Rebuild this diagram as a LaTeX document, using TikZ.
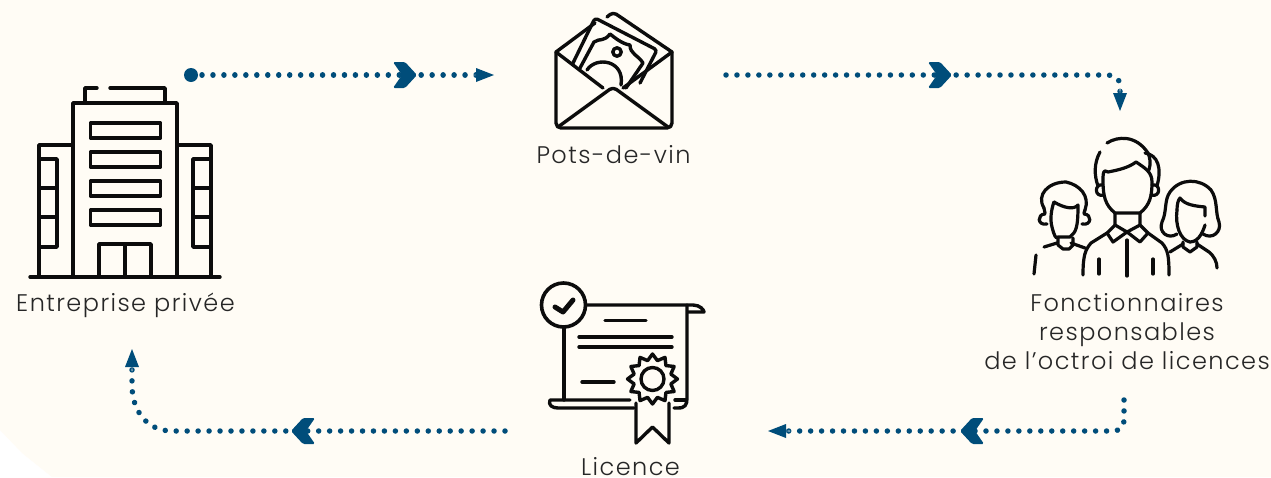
\documentclass[tikz,border=0pt]{standalone}
\usepackage{fontspec}
\setmainfont{Poppins}[UprightFont=* Light,LetterSpace=6]
\usetikzlibrary{arrows.meta}
\definecolor{cream}{HTML}{FFFCF5}
\definecolor{flow}{HTML}{004D7A}
\definecolor{ink}{HTML}{0C0C0C}
\definecolor{labelink}{HTML}{262626}
\tikzset{
  x=1pt,y=-1pt,
  icon/.style={draw=ink,line width=3.4pt,line cap=round,line join=round,fill=none},
  thinicon/.style={icon,line width=3pt},
  dotflow/.style={draw=flow,line width=5.5pt,line cap=round,dash pattern=on 0.01pt off 10.95pt,
    -{Triangle[length=4pt,width=1pt,line width=0pt,color=cream,fill=cream]Triangle[length=18pt,width=14pt,line width=0pt,color=flow,fill=flow]}},
  lab/.style={font=\fontsize{24}{29}\selectfont,text=labelink,inner sep=0pt},
  chevron/.pic={\fill[flow,rounded corners=1.5pt] (-12,-13)--(0,-13)--(12,0)--(0,13)--(-12,13)--(-3,0)--cycle;}
}
\begin{document}
\begin{tikzpicture}
\useasboundingbox (0,0) rectangle (1271,477);
\fill[white] (0,0) rectangle (1271,477);
\fill[cream] (0,0)--(1271,0)--(1271,477)--(52,477)--(22,453)--(0,430)--cycle;

% ---- building
\begin{scope}[icon]
\draw (30,277)--(220,277);
\draw (73,277)--(73,103)--(177,103)--(177,277);
\draw (97,88)--(85,88)--(85,103);
\draw (110,88)--(165,88)--(165,103);
\draw (73,145)--(39,145)--(39,277);
\draw (177,145)--(211,145)--(211,277);
\draw (39,159)--(57,159)--(57,247)--(39,247);
\draw (39,188)--(57,188) (39,217)--(57,217);
\draw (211,159)--(193,159)--(193,247)--(211,247);
\draw (211,188)--(193,188) (211,217)--(193,217);
\draw (90.5,123) rectangle (160.5,138);
\draw (90.5,152) rectangle (160.5,167);
\draw (90.5,181) rectangle (160.5,196);
\draw (90.5,210) rectangle (160.5,225);
\draw (99,277)--(99,244)--(151,244)--(151,277) (125,244)--(125,277);
\end{scope}

% ---- envelope
\begin{scope}[icon]
\draw[rounded corners=5pt] (556,52)--(556,128)--(672,128)--(672,52);
\draw (556,52)--(603,88) (672,52)--(623,88);
\draw[rounded corners=4pt] (558,127)--(613,87)--(668,127);
\draw (556,52)--(595,23);
\draw[rounded corners=4pt] (607,17)--(613,12)--(672,52);
\draw[rounded corners=3pt] (573,63)--(595,18)--(657,50)--(640,83);
\draw (580,68)--(594,42) .. controls (600,38) and (604,42) .. (610,34)
  .. controls (614,37) and (622,44) .. (630,45)
  .. controls (630,54) and (638,55) .. (643,63)--(626,88);
\draw (617,52) circle (4.2);
\draw (587,70) .. controls (596,56) and (625,60) .. (621,85);
\end{scope}

% ---- officials
\begin{scope}[thinicon,line width=3.2pt]
% centre
\draw (1103,180) .. controls (1103,170) and (1104,170) .. (1108,172)
  .. controls (1118,170) and (1128,168) .. (1136,162)
  .. controls (1145,168) and (1152,172) .. (1152,182)
  .. controls (1152,196) and (1150,205) .. (1140,213)--(1115,213) .. controls (1105,205) and (1103,196) .. (1103,180);
\draw (1107,143) .. controls (1118,136) and (1136,135) .. (1148,153) .. controls (1150,158) and (1151,163) .. (1149,170);
\draw (1100,152) .. controls (1094,163) and (1094,175) .. (1098,186);
\draw (1145,153) .. controls (1158,155) and (1162,168) .. (1157,186);
\draw (1103,185) .. controls (1094,183) and (1094,198) .. (1104,195);
\draw (1152,185) .. controls (1161,183) and (1161,198) .. (1151,195);
\draw (1115,213)--(1115,225)--(1107,233)--(1113,242)--(1127,232)--(1140,242)--(1148,233)--(1140,225)--(1140,213);
\draw (1115,225)--(1127,232)--(1140,225);
\draw (1127,240)--(1127,276);
\draw (1107,233)--(1091,243) .. controls (1085,250) and (1083,256) .. (1083,275);
\draw (1148,233)--(1162,243) .. controls (1168,250) and (1169,256) .. (1169,275);
\draw (1099,259)--(1099,274) (1153,259)--(1153,274);
% left man
\draw (1054,202) .. controls (1051,210) and (1050,220) .. (1052,227) .. controls (1054,235) and (1056,240) .. (1058,237)--(1070,237)
  .. controls (1076,232) and (1078,228) .. (1078,205) .. controls (1074,210) and (1064,208) .. (1054,202);
\draw (1044,208) .. controls (1036,195) and (1048,182) .. (1066,182) .. controls (1080,185) and (1090,196) .. (1085,210);
\draw (1044,208)--(1045,213) (1085,210)--(1084,213);
\draw (1045,214) .. controls (1037,214) and (1037,226) .. (1047,224);
\draw (1084,214) .. controls (1092,214) and (1092,226) .. (1082,224);
\draw (1058,238)--(1058,245)--(1063,249)--(1069,249)--(1073,245)--(1073,238);
\draw (1044,247)--(1057,243) (1071,243)--(1085,248);
\draw (1036,255)--(1034,274);
% woman
\draw (1177,210) .. controls (1177,205) and (1178,200) .. (1180,198) .. controls (1185,205) and (1195,206) .. (1205,207)--(1205,216);
\draw (1177,210) .. controls (1175,225) and (1180,240) .. (1190,242) .. controls (1200,242) and (1204,228) .. (1205,225);
\draw (1177,234) .. controls (1168,240) and (1158,232) .. (1162,222) .. controls (1167,212) and (1164,200) .. (1170,192)
  .. controls (1180,178) and (1200,178) .. (1211,190) .. controls (1218,200) and (1215,212) .. (1219,222)
  .. controls (1222,232) and (1212,240) .. (1203,234);
\draw (1183,242)--(1183,247)--(1190,252)--(1197,247)--(1197,242);
\draw (1170,252)--(1183,244) (1197,244)--(1209,252) .. controls (1214,256) and (1217,262) .. (1217,268);
\end{scope}

% ---- licence
\begin{scope}[icon]
\draw[line width=3.6pt] (563.5,305) circle (22);
\draw[line width=5pt] (555,307)--(563,312)--(573,300);
\draw (587,305)--(693,305) .. controls (700,305) and (704,310) .. (704,312)--(688,312);
\draw (687,305)--(687,398) .. controls (687,405) and (685,408) .. (678,408)--(674,408);
\draw (564,328)--(564,400);
\draw (675,400)--(686,400);
\draw (630,400)--(550,400) .. controls (548,405) and (552,408) .. (558,408)--(634,408);
\draw (605,320.5)--(646,320.5);
\draw (579,337)--(672,337) (579,347)--(672,347) (582,382)--(614,382);
\draw (636,403)--(636,443)--(652.5,427)--(669,443)--(669,403);
\draw[fill=cream] plot[samples at={0,15,...,345},variable=\t] ({652.5+(22+3*cos(12*\t))*sin(\t)},{379-(22+3*cos(12*\t))*cos(\t)}) -- cycle;
\draw (652.5,379) circle (11.5);
\end{scope}

% ---- connector ends
\coordinate (a1) at (202,75);  \coordinate (a2) at (494,75);
\coordinate (b1) at (726,75);  \coordinate (b2) at (1120,111);
\coordinate (c1) at (1124,400);\coordinate (c2) at (768,431);
\coordinate (d1) at (505,431); \coordinate (d2) at (132,349);
\node[circle,fill=flow,inner sep=0pt,minimum size=14pt] (start) at (191,75) {};

\draw[dotflow] (a1)--(a2);
\draw[dotflow] (b1)--(1106,75) .. controls (1114,75) and (1120,78) .. (1120,86)--(b2);
\draw[dotflow] (c1)--(1124,419) .. controls (1124,427) and (1120,431) .. (1112,431)--(c2);
\draw[dotflow] (d1)--(172,431) .. controls (148,431) and (132,412) .. (132,385)--(d2);

\pic at (405,75) {chevron};
\pic at (940,75) {chevron};
\pic[rotate=180] at (972,431) {chevron};
\pic[rotate=180] at (303,431) {chevron};

% ---- labels
\node[lab,anchor=base] (entreprise) at (125.5,311) {Entreprise privée};
\node[lab,anchor=base] (pots) at (613.5,163) {Pots-de-vin};
\node[lab,anchor=base] (licence) at (630.5,475) {Licence};
\node[lab,anchor=center,align=center] (fonct) at (1127,332) {Fonctionnaires\\responsables\\de l’octroi de licences};
\end{tikzpicture}
\end{document}
